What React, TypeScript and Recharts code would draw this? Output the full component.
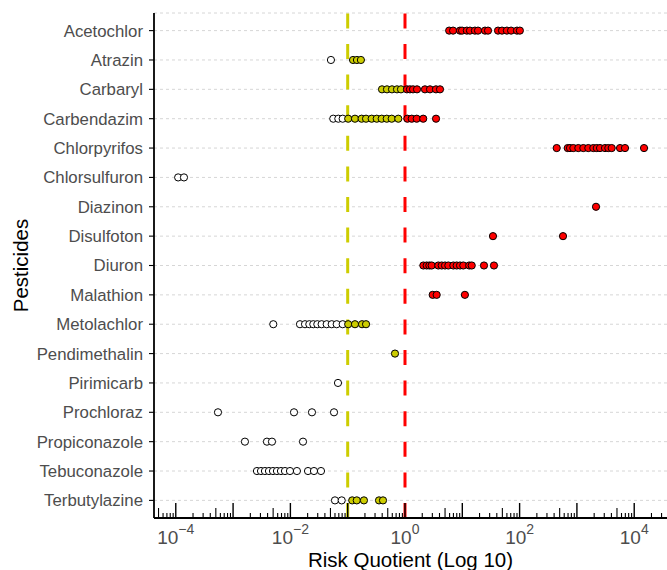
import { ScatterChart, Scatter, XAxis, YAxis, CartesianGrid, ReferenceLine, Label } from 'recharts'

const pesticides = [
  'Acetochlor',
  'Atrazin',
  'Carbaryl',
  'Carbendazim',
  'Chlorpyrifos',
  'Chlorsulfuron',
  'Diazinon',
  'Disulfoton',
  'Diuron',
  'Malathion',
  'Metolachlor',
  'Pendimethalin',
  'Pirimicarb',
  'Prochloraz',
  'Propiconazole',
  'Tebuconazole',
  'Terbutylazine'
]

// risk quotients, one array per pesticide
const acetochlor = [5.9, 6.9, 9.1, 9.9, 12, 13.6, 16.6, 18.8, 24.9, 28.1, 42, 49.3, 60, 71, 90, 101]
const atrazin = [0.051, 0.124, 0.145, 0.17]
const carbaryl = [0.397, 0.485, 0.593, 0.725, 0.851, 1.08, 1.22, 1.38, 1.62, 2.23, 2.73, 3.47, 4.08]
const carbendazim = [
  0.056, 0.0686, 0.0818, 0.102, 0.134, 0.175, 0.209, 0.262, 0.321, 0.392, 0.48, 0.586, 0.764, 1.1, 1.31, 1.6,
  2.08, 3.48
]
const chlorpyrifos = [
  444, 691, 758, 866, 1058, 1294, 1581, 1933, 2218, 2529, 3093, 3531, 4046, 5651, 6906, 14825
]
const chlorsulfuron = [0.00011, 0.000139]
const diazinon = [2154]
const disulfoton = [34.3, 572]
const diuron = [2.09, 2.39, 2.66, 2.92, 3.81, 4.37, 4.99, 5.7, 6.97, 7.98, 9.12, 10.4, 13.2, 14.6, 23.9, 35.7]
const malathion = [3.04, 3.57, 11.1]
const metolachlor = [
  0.00503, 0.0147, 0.018, 0.0214, 0.0251, 0.0295, 0.0351, 0.043, 0.0526, 0.0643, 0.0818, 0.102, 0.134, 0.178, 0.209
]
const pendimethalin = [0.669]
const pirimicarb = [0.0677]
const prochloraz = [0.000545, 0.01156, 0.0238, 0.0577]
const propiconazole = [0.00161, 0.0039, 0.00477, 0.0166]
const tebuconazole = [
  0.00261, 0.00307, 0.0036, 0.00423, 0.00497, 0.00583, 0.00685, 0.00805, 0.00984, 0.013, 0.0203, 0.0258, 0.0342
]
const terbutylazine = [0.06, 0.0786, 0.12, 0.144, 0.192, 0.352, 0.413]

const rqByPesticide = [
  acetochlor, atrazin, carbaryl, carbendazim, chlorpyrifos, chlorsulfuron, diazinon, disulfoton, diuron,
  malathion, metolachlor, pendimethalin, pirimicarb, prochloraz, propiconazole, tebuconazole, terbutylazine
]

const lowThreshold = 0.1
const highThreshold = 1
const labelledExponents = [-4, -2, 0, 2, 4]

const FONT = 'Arial, "Liberation Sans", Helvetica, sans-serif'
const YELLOW = '#CDCD00'
const RED = '#FF0000'

const xMin = Math.pow(10, -4.38)
const xMax = Math.pow(10, 4.572)

const lastRow = pesticides.length - 1
const points = pesticides.flatMap((name, i) =>
  rqByPesticide[i].map((rq) => ({ name, rq, row: lastRow - i }))
)

// annotation_logticks style: every 1..9 x 10^k inside the axis range
const logTicks: number[] = []
for (let e = -5; e <= 4; e++) {
  for (let m = 1; m <= 9; m++) {
    const v = m * Math.pow(10, e)
    if (v >= xMin && v <= xMax) logTicks.push(v)
  }
}

function fillFor(rq: number): string {
  if (rq < lowThreshold) return '#FFFFFF'
  if (rq < highThreshold) return YELLOW
  return RED
}

function Dot(props: any) {
  const { cx, cy, payload } = props
  if (cx == null || cy == null) return null
  return <circle cx={cx} cy={cy} r={3.6} fill={fillFor(payload.rq)} stroke="#000" strokeWidth={1} />
}

function LogTick(props: any) {
  const { x, y, payload } = props
  const v = payload.value as number
  const lg = Math.log10(v)
  const exp = Math.round(lg)
  const isDecade = Math.abs(lg - exp) < 1e-6
  const mant = v / Math.pow(10, Math.floor(lg + 1e-9))
  const len = isDecade ? 15 : Math.abs(mant - 5) < 1e-6 ? 10 : 5
  const showLabel = isDecade && labelledExponents.includes(exp)
  return (
    <g>
      <line x1={x} x2={x} y1={y} y2={y - len} stroke="#000" strokeWidth={isDecade ? 1.4 : 1.1} />
      {showLabel && (
        <text x={x} y={y + 25.5} textAnchor="middle" fill="#4d4d4d" fontSize={19} fontFamily={FONT}>
          10
          <tspan dy={-10} fontSize={14}>
            {exp < 0 ? '\u2212' + Math.abs(exp) : String(exp)}
          </tspan>
        </text>
      )}
    </g>
  )
}

function App(): JSX.Element {
  return (
    <div style={{ position: 'absolute', left: 0, top: 0, width: 667, height: 570, background: '#fff' }}>
      <ScatterChart width={667} height={570} margin={{ top: 13, right: 0, bottom: 0, left: 0 }}>
        <CartesianGrid vertical={false} stroke="#d6d6d6" strokeDasharray="3 3" strokeWidth={1} />
        <XAxis
          type="number"
          dataKey="rq"
          scale="log"
          domain={[xMin, xMax]}
          allowDataOverflow
          ticks={logTicks}
          interval={0}
          tick={<LogTick />}
          tickLine={false}
          tickSize={0}
          tickMargin={0}
          height={52}
          axisLine={{ stroke: '#000', strokeWidth: 1.8 }}
        >
          <Label
            content={() => (
              <text x={410.5} y={566.5} textAnchor="middle" fontSize={20.5} fill="#000" fontFamily={FONT}>
                Risk Quotient (Log 10)
              </text>
            )}
          />
        </XAxis>
        <YAxis
          type="number"
          dataKey="row"
          domain={[-0.6, lastRow + 0.6]}
          allowDataOverflow
          ticks={pesticides.map((_, i) => i)}
          interval={0}
          tickFormatter={(v: number) => pesticides[lastRow - v]}
          width={154}
          tickSize={5}
          tickMargin={6}
          tick={{ fill: '#4d4d4d', fontSize: 16.8, fontFamily: FONT }}
          tickLine={{ stroke: '#000', strokeWidth: 1.1 }}
          axisLine={{ stroke: '#000', strokeWidth: 1.8 }}
        >
          <Label
            content={() => (
              <text
                x={28}
                y={265.5}
                textAnchor="middle"
                fontSize={20.5}
                fill="#000"
                fontFamily={FONT}
                transform="rotate(-90 28 265.5)"
              >
                Pesticides
              </text>
            )}
          />
        </YAxis>
        <Scatter data={points} shape={<Dot />} isAnimationActive={false} />
        <ReferenceLine x={lowThreshold} stroke={YELLOW} strokeWidth={3} strokeDasharray="15 15.6" />
        <ReferenceLine x={highThreshold} stroke={RED} strokeWidth={3} strokeDasharray="15 15.6" />
      </ScatterChart>
    </div>
  )
}

export default App
